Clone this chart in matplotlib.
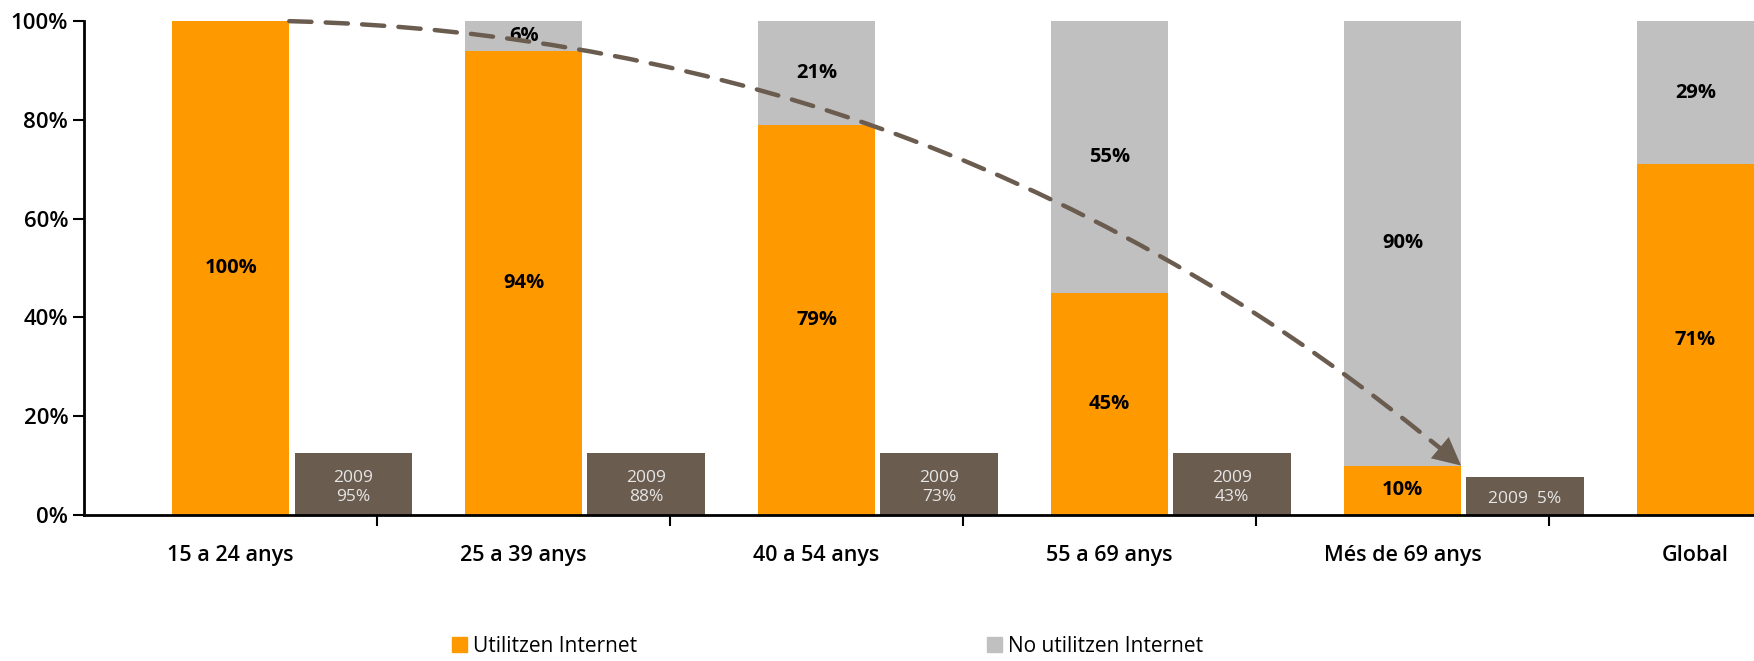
#!/usr/bin/env python3
"""Internet use by age group: stacked bars + 2009 reference boxes."""
import matplotlib
matplotlib.use("Agg")
import matplotlib.pyplot as plt
from matplotlib.patches import Patch

groups = ["15 a 24 anys", "25 a 39 anys", "40 a 54 anys", "55 a 69 anys",
          "Més de 69 anys", "Global"]
use_internet = [100, 94, 79, 45, 10, 71]
no_internet = [0, 6, 21, 55, 90, 29]
# 2009 reference values (last group "Global" has none)
ref_2009 = [95, 88, 73, 43, 5]

ORANGE = "#FF9900"
GREY = "#C0C0C0"
BROWN = "#6B5C50"

plt.rcParams["font.family"] = ["Open Sans", "DejaVu Sans"]

fig = plt.figure(figsize=(17.54, 6.61), dpi=100)
ax = fig.add_axes([0.048, 0.221, 0.952, 0.747])

bar_w = 0.40
ref_off = 0.418
x = list(range(len(groups)))

ax.bar(x, use_internet, width=bar_w, color=ORANGE, zorder=2)
ax.bar(x, no_internet, width=bar_w, bottom=use_internet, color=GREY, zorder=2)

for i, (u, n) in enumerate(zip(use_internet, no_internet)):
    ax.text(i, u / 2, f"{u}%", ha="center", va="center", fontsize=14.5,
            fontweight="bold", color="black", zorder=4)
    if n > 0:
        ax.text(i, u + n / 2, f"{n}%", ha="center", va="center", fontsize=14.5,
                fontweight="bold", color="black", zorder=4)

# 2009 boxes: fixed-height label boxes, not scaled to the value
for i, v in enumerate(ref_2009):
    two_lines = v >= 10
    box_h = 12.5 if two_lines else 7.7
    ax.bar(i + ref_off, box_h, width=bar_w, color=BROWN, zorder=2)
    label = f"2009\n{v}%" if two_lines else f"2009  {v}%"
    ax.text(i + ref_off, box_h / 2 - 0.6, label, ha="center", va="center",
            fontsize=12.5, color="#E6E6E6", linespacing=1.25, zorder=4)

# dashed trend arrow from top of first bar to top of "Més de 69 anys"
start = (bar_w / 2, use_internet[0])
end = (4 + bar_w / 2, use_internet[4])
conn = "arc3,rad=-0.175"
ax.annotate("", xy=end, xytext=start,
            arrowprops=dict(arrowstyle="-", color=BROWN, lw=3.2,
                            linestyle=(0, (5, 3.2)), connectionstyle=conn,
                            shrinkA=0, shrinkB=6),
            zorder=5, annotation_clip=False)
# solid head on the same path
ax.annotate("", xy=end, xytext=start,
            arrowprops=dict(arrowstyle="-|>,head_length=1.0,head_width=0.5",
                            color=BROWN, lw=0, connectionstyle=conn,
                            mutation_scale=20, shrinkA=0, shrinkB=0),
            zorder=5, annotation_clip=False)

ax.set_xlim(-0.5, 5.2)
ax.set_ylim(0, 100)
ax.set_yticks([0, 20, 40, 60, 80, 100])
ax.set_yticklabels(["0%", "20%", "40%", "60%", "80%", "100%"])
ax.tick_params(axis="y", labelsize=16, length=8, width=1.5, direction="out")
ax.set_xticks(x)
ax.set_xticklabels(groups)
ax.tick_params(axis="x", which="major", length=0, labelsize=15.5, pad=22)
ax.set_xticks([i + 0.5 for i in range(len(groups) - 1)], minor=True)
ax.tick_params(axis="x", which="minor", length=8, width=1.5, direction="out")
for lab in ax.get_yticklabels() + ax.get_xticklabels():
    lab.set_fontweight("semibold")

for s in ["top", "right"]:
    ax.spines[s].set_visible(False)
ax.spines["left"].set_linewidth(2)
ax.spines["bottom"].set_linewidth(2)

handles = [Patch(color=ORANGE, label="Utilitzen Internet"),
           Patch(color=GREY, label="No utilitzen Internet")]
fig.legend(handles=handles, loc="lower left", bbox_to_anchor=(0.247, -0.022),
           ncol=2, frameon=False, fontsize=15, handlelength=0.7,
           handleheight=0.7, handletextpad=0.3, columnspacing=16.8)

fig.savefig("out.png", dpi=100, facecolor="white")
